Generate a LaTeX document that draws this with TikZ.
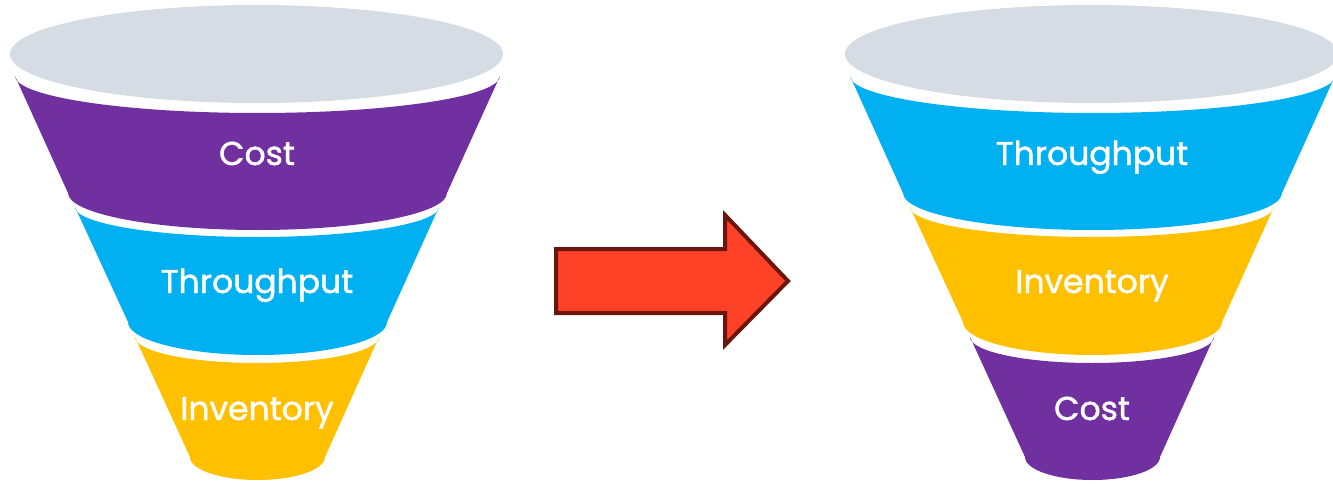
\documentclass[tikz,border=0pt]{standalone}
\usepackage{fontspec}
\setmainfont{Poppins}
\newfontfamily\lblfont[FakeBold=1.3]{Poppins}
\definecolor{fpurple}{HTML}{7030A0}
\definecolor{fblue}{HTML}{00B0F0}
\definecolor{fyellow}{HTML}{FFC000}
\definecolor{fgrey}{HTML}{D6DCE4}
\definecolor{arrowfill}{HTML}{FF4128}
\definecolor{arrowline}{HTML}{6B160C}
\tikzset{
  band/.style={fill=#1, draw=none},
  rim/.style={fill=fgrey, draw=none},
  lbl/.style={text=white, font=\lblfont\fontsize{33}{38}\selectfont, anchor=base, inner sep=0pt},
  bigarrow/.style={fill=arrowfill, draw=arrowline, line width=4pt, line join=miter}
}
\begin{document}
\begin{tikzpicture}[x=1pt,y=1pt]
\useasboundingbox (0,0) rectangle (1333,483);
\clip (0,0) rectangle (1333,483);
% ---------- left funnel ----------
\begin{scope}
\fill[rim] (256.5,429) ellipse [x radius=246.5pt, y radius=49pt];
\path[band=fpurple] (15,407) -- (68,290)
  arc[start angle=180,end angle=360,x radius=189.5pt,y radius=37pt] -- (500,407)
  arc[start angle=360,end angle=180,x radius=242.5pt,y radius=37pt] -- cycle;
\path[band=fblue] (75,276) -- (128,161)
  arc[start angle=180,end angle=360,x radius=129.5pt,y radius=33pt] -- (439,276)
  arc[start angle=360,end angle=180,x radius=182pt,y radius=30pt] -- cycle;
\path[band=fyellow] (135,146) -- (190,26)
  arc[start angle=180,end angle=360,x radius=67.5pt,y radius=23pt] -- (379,146)
  arc[start angle=360,end angle=180,x radius=122pt,y radius=26pt] -- cycle;
\node[lbl] (costL) at (257,318) {Cost};
\node[lbl] (thruL) at (257,190) {Throughput};
\node[lbl] (invL) at (257,63) {Inventory};
\end{scope}
% ---------- right funnel ----------
\begin{scope}[xshift=835pt]
\fill[rim] (256.5,429) ellipse [x radius=246.5pt, y radius=49pt];
\path[band=fblue] (15,407) -- (68,290)
  arc[start angle=180,end angle=360,x radius=189.5pt,y radius=37pt] -- (500,407)
  arc[start angle=360,end angle=180,x radius=242.5pt,y radius=37pt] -- cycle;
\path[band=fyellow] (75,276) -- (128,161)
  arc[start angle=180,end angle=360,x radius=129.5pt,y radius=33pt] -- (439,276)
  arc[start angle=360,end angle=180,x radius=182pt,y radius=30pt] -- cycle;
\path[band=fpurple] (135,146) -- (190,26)
  arc[start angle=180,end angle=360,x radius=67.5pt,y radius=23pt] -- (379,146)
  arc[start angle=360,end angle=180,x radius=122pt,y radius=26pt] -- cycle;
\node[lbl] (thruR) at (257,318) {Throughput};
\node[lbl] (invR) at (257,190) {Inventory};
\node[lbl] (costR) at (257,63) {Cost};
\end{scope}
% ---------- arrow ----------
\path[bigarrow] (556,234) -- (725,234) -- (725,268) -- (788,202) -- (725,138) -- (725,170) -- (556,170) -- cycle;
\end{tikzpicture}
\end{document}
